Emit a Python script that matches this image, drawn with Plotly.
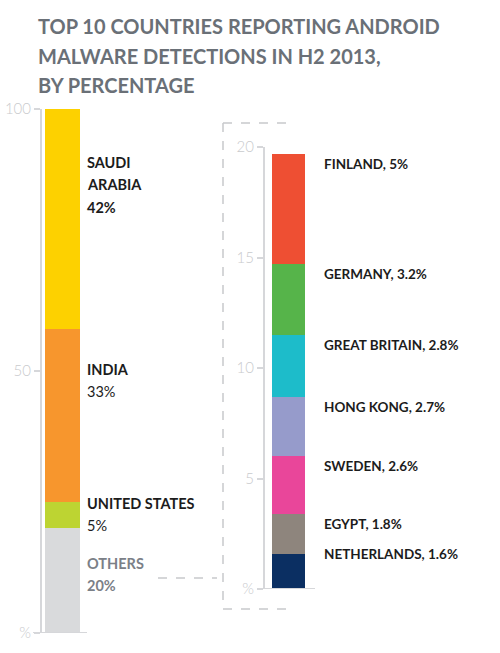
import plotly.graph_objects as go

# ---------------- data ----------------
left_names = ["OTHERS", "UNITED STATES", "INDIA", "SAUDI ARABIA"]
left_values = [20, 5, 33, 42]
left_colors = ["#D9DADC", "#BDD432", "#F7962D", "#FDD100"]

right_names = ["NETHERLANDS", "EGYPT", "SWEDEN", "HONG KONG", "GREAT BRITAIN", "GERMANY", "FINLAND"]
right_values = [1.6, 1.8, 2.6, 2.7, 2.8, 3.2, 5]
right_colors = ["#0B2F62", "#8E857D", "#E9469A", "#969BCB", "#1DBCCA", "#56B44A", "#EE4F33"]

left_ticks = [0, 50, 100]
left_ticktext = ["%", "50", "100"]
right_ticks = [0, 5, 10, 15, 20]
right_ticktext = ["%", "5", "10", "15", "20"]

title_lines = ["TOP 10 COUNTRIES REPORTING ANDROID",
               "MALWARE DETECTIONS IN H2 2013,",
               "BY PERCENTAGE"]

W, H = 500, 653
FONT = "Lato"
AXIS_COL = "#D6D7DA"
TICK_COL = "#C9CACD"
DASH_COL = "#C8C9CB"


def px(x, y):
    return x / W, 1 - y / H


fig = go.Figure()

for n, v, c in zip(left_names, left_values, left_colors):
    fig.add_trace(go.Bar(x=["L"], y=[v], name=n, marker=dict(color=c, line=dict(width=0)),
                         xaxis="x", yaxis="y", showlegend=False, hoverinfo="name+y"))
for n, v, c in zip(right_names, right_values, right_colors):
    fig.add_trace(go.Bar(x=["R"], y=[v], name=n, marker=dict(color=c, line=dict(width=0)),
                         xaxis="x2", yaxis="y2", showlegend=False, hoverinfo="name+y"))

annotations = []
# title
for i, t in enumerate(title_lines):
    x, y = px(36, 26 + i * 29.5)
    annotations.append(dict(text=t, x=x, y=y, xref="paper", yref="paper", xanchor="left",
                            yanchor="middle", showarrow=False,
                            font=dict(family=FONT, size=20, color="#6A7077", weight=700)))

# left labels
left_label_lines = {
    "SAUDI ARABIA": ["SAUDI", "ARABIA", "42%"],
    "INDIA": ["INDIA", "33%"],
    "UNITED STATES": ["UNITED STATES", "5%"],
    "OTHERS": ["OTHERS", "20%"],
}
left_label_shift = {"SAUDI ARABIA": 53, "INDIA": 40, "UNITED STATES": 1, "OTHERS": 35}
cum = 0
for n, v in zip(left_names, left_values):
    cum += v
    lines = left_label_lines[n]
    for j, line in enumerate(lines):
        is_pct = line.endswith("%")
        if n == "OTHERS":
            col, wt = "#7B8087", 700
        elif n == "SAUDI ARABIA":
            col, wt = "#1C1C1C", 700
        else:
            col, wt = "#1C1C1C", (400 if is_pct else 700)
        annotations.append(dict(text=line, x=84.5 / W, y=cum, xref="paper", yref="y",
                                xanchor="left", yanchor="middle", showarrow=False,
                                yshift=-(left_label_shift[n] + j * 22.5),
                                font=dict(family=FONT, size=14.5, color=col, weight=wt)))

# right labels
cum = 0
for n, v in zip(right_names, right_values):
    cum += v
    shift = 0 if n == "NETHERLANDS" else 10
    val = f"{v:g}%"
    annotations.append(dict(text=f"{n}, {val}", x=321.5 / W, y=cum, xref="paper", yref="y2",
                            xanchor="left", yanchor="middle", showarrow=False, yshift=-shift,
                            font=dict(family=FONT, size=13.5, color="#1C1C1C", weight=700)))

shapes = []
# baselines
x0, _ = px(33, 0); x1, _ = px(87, 0)
shapes.append(dict(type="line", xref="paper", yref="y", x0=x0, x1=x1, y0=0, y1=0,
                   line=dict(color=AXIS_COL, width=2)))
x0, _ = px(258, 0); x1, _ = px(315, 0)
shapes.append(dict(type="line", xref="paper", yref="y2", x0=x0, x1=x1, y0=0, y1=0,
                   line=dict(color=AXIS_COL, width=2)))
# dashed connector / bracket
for (a, b), (c, d) in [((158, 578), (217, 578)), ((223, 123), (223, 609)),
                       ((223, 123), (291, 123)), ((223, 609), (290, 609))]:
    xa, ya = px(a, b); xc, yc = px(c, d)
    shapes.append(dict(type="line", xref="paper", yref="paper", x0=xa, y0=ya, x1=xc, y1=yc,
                       line=dict(color=DASH_COL, width=1.5, dash="dash")))

tickfont = dict(family=FONT, size=15, color=TICK_COL, weight=300)

fig.update_layout(
    width=W, height=H, autosize=False,
    margin=dict(l=0, r=0, t=0, b=0, pad=0, autoexpand=False),
    paper_bgcolor="white", plot_bgcolor="rgba(0,0,0,0)",
    barmode="stack", bargap=0,
    xaxis=dict(domain=[45 / W, 80 / W], range=[-0.5, 0.5], visible=False, anchor="y",
               fixedrange=True, automargin=False),
    xaxis2=dict(domain=[272 / W, 305 / W], range=[-0.5, 0.5], visible=False, anchor="y2",
                fixedrange=True, automargin=False),
    yaxis=dict(domain=[1 - 633 / H, 1 - 109 / H], range=[0, 100], anchor="free",
               position=41 / W, showgrid=False, zeroline=False, showline=True,
               linecolor=AXIS_COL, linewidth=2, ticks="outside", ticklen=6,
               tickcolor=AXIS_COL, tickwidth=1.5, tickvals=left_ticks,
               ticktext=left_ticktext, tickfont=tickfont, fixedrange=True, automargin=False),
    yaxis2=dict(domain=[1 - 589 / H, 1 - 147 / H], range=[0, 20], anchor="free",
                position=264 / W, showgrid=False, zeroline=False, showline=True,
                linecolor=AXIS_COL, linewidth=2, ticks="outside", ticklen=6,
                tickcolor=AXIS_COL, tickwidth=1.5, tickvals=right_ticks,
                ticktext=right_ticktext, tickfont=tickfont, fixedrange=True, automargin=False),
    annotations=annotations,
    shapes=shapes,
    showlegend=False,
)

fig.write_html("out.html", config={"displayModeBar": False},
               post_script="document.body.style.margin='0';document.body.style.overflow='hidden';")
